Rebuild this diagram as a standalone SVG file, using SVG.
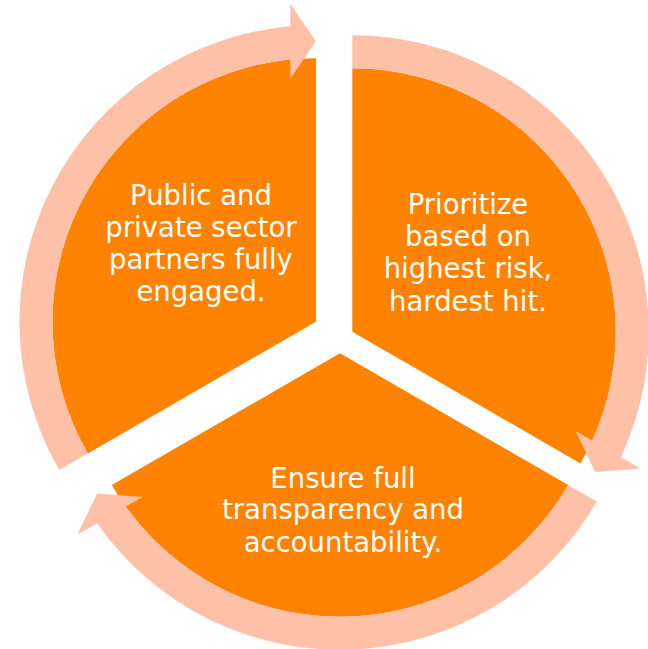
<svg xmlns="http://www.w3.org/2000/svg" xmlns:xlink="http://www.w3.org/1999/xlink" width="648" height="649" viewBox="0 0 648 649">
  <style>
    .wedge { fill: #FF8200; }
    .arrow { fill: #FFC0A8; }
    .label { fill: #FFFFFF; font-family: "DejaVu Sans", "Liberation Sans", sans-serif; font-size: 27.5px; text-anchor: middle; }
  </style>
  <defs>
    <path id="wedgeShape" d="M 0 0 L -228.2 131.75 A 263.5 263.5 0 0 1 0 -263.5 Z"/>
    <path id="arrowShape" d="M -256.78 148.25 A 296.5 296.5 0 0 1 -25.7 -295.38 L -25.7 -318 L 0 -280.5 L -25.7 -243 L -25.7 -262.24 A 263.5 263.5 0 0 0 -228.2 131.75 Z"/>
  </defs>
  <rect width="648" height="649" fill="#FFFFFF"/>
  <g id="node-partners">
    <use xlink:href="#wedgeShape" href="#wedgeShape" class="wedge" transform="translate(316,321.7)"/>
    <text class="label" x="201" y="204.5">Public and</text>
    <text class="label" x="201" y="236.8">private sector</text>
    <text class="label" x="201" y="268.6">partners fully</text>
    <text class="label" x="201" y="300.8">engaged.</text>
  </g>
  <g id="node-prioritize">
    <use xlink:href="#wedgeShape" href="#wedgeShape" class="wedge" transform="translate(352.3,331.7) rotate(120)"/>
    <text class="label" x="468" y="214">Prioritize</text>
    <text class="label" x="468" y="246.3">based on</text>
    <text class="label" x="468" y="278">highest risk,</text>
    <text class="label" x="468" y="310.7">hardest hit.</text>
  </g>
  <g id="node-transparency">
    <use xlink:href="#wedgeShape" href="#wedgeShape" class="wedge" transform="translate(340,353.3) rotate(240)"/>
    <text class="label" x="343" y="487.6">Ensure full</text>
    <text class="label" x="343" y="519.4">transparency and</text>
    <text class="label" x="343" y="552">accountability.</text>
  </g>
  <g id="connectors">
    <use xlink:href="#arrowShape" href="#arrowShape" class="arrow" transform="translate(316,321.7)"/>
    <use xlink:href="#arrowShape" href="#arrowShape" class="arrow" transform="translate(352.3,331.7) rotate(120)"/>
    <use xlink:href="#arrowShape" href="#arrowShape" class="arrow" transform="translate(340,353.3) rotate(240)"/>
  </g>
</svg>
